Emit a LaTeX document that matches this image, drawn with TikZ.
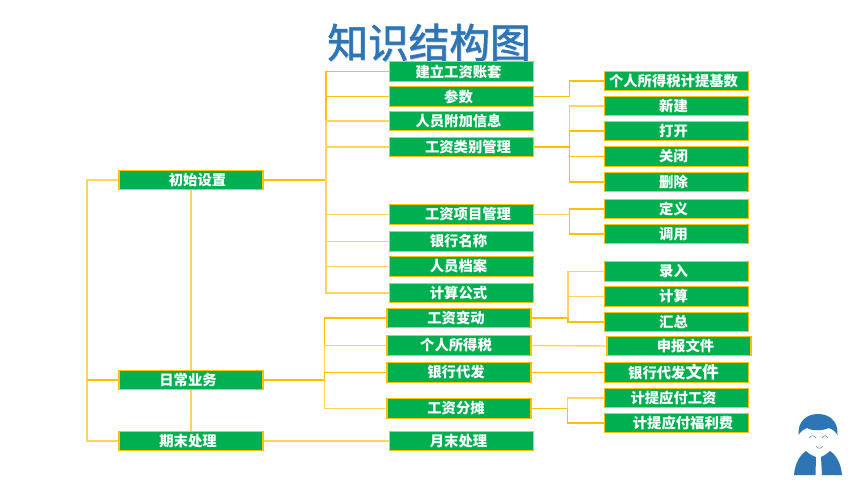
\documentclass[tikz,border=0pt]{standalone}
\usepackage{fontspec}
\setmainfont{Noto Sans CJK SC}
\newfontfamily\titlefont[FakeBold=1.2]{Noto Sans CJK SC}
\newcommand{\lft}{\hspace{-4.5pt}}
\newcommand{\rgt}{\hspace{9.75pt}}
\definecolor{boxgreen}{HTML}{00B050}
\definecolor{linegold}{HTML}{FFC000}
\definecolor{linelight}{HTML}{FFD35C}
\definecolor{titleblue}{HTML}{2E75B6}
\tikzset{
  kbox/.style={draw=linegold,line width=0.8pt,fill=boxgreen,text=white,inner sep=0pt,
    minimum width=108pt,minimum height=14.6pt,font=\fontsize{10.75pt}{12pt}\selectfont\bfseries},
  conn/.style={draw=linegold,line width=0.95pt},
  connlight/.style={draw=linelight,line width=1.05pt},
  connthick/.style={draw=linegold,line width=1.4pt},
  titletext/.style={text=titleblue,inner sep=0pt,font=\fontsize{30.5pt}{34pt}\titlefont},
  titleshadow/.style={text=titleblue!35,inner sep=0pt,font=\fontsize{30.5pt}{34pt}\titlefont},
  iconblue/.style={fill=titleblue,draw=none},
  iconline/.style={draw=titleblue!80,line width=0.45pt,line cap=round}
}
\begin{document}
\begin{tikzpicture}[x=0.75pt,y=-0.75pt]
\useasboundingbox (0,0) rectangle (860,484);
\fill[white] (0,0) rectangle (860,484);
% title
\node[titleshadow] (titleb) at (429.7,43.2) {知识结构图};
\node[titletext] (title) at (429,42.5) {知识结构图};
% level 1
\node[kbox] (init) at (191,180) {\rgt 初始设置};
\node[kbox] (daily) at (191,380) {\lft 日常业务};
\node[kbox] (close) at (191,441) {\lft 期末处理};
% level 2
\node[kbox] (a1) at (461.5,71.5) {\lft 建立工资账套};
\node[kbox] (a2) at (461.5,96.5) {\lft 参数};
\node[kbox] (a3) at (461.5,121) {\lft 人员附加信息};
\node[kbox] (a4) at (461.5,147) {\rgt 工资类别管理};
\node[kbox] (a5) at (461.5,214.5) {\rgt 工资项目管理};
\node[kbox] (a6) at (461.5,241.5) {\lft 银行名称};
\node[kbox] (a7) at (461.5,266.5) {\lft 人员档案};
\node[kbox] (a8) at (461.5,293) {\lft 计算公式};
\node[kbox] (d1) at (459,318) {\lft 工资变动};
\node[kbox] (d2) at (459,345.5) {\lft 个人所得税};
\node[kbox] (d3) at (459,372.5) {\lft 银行代发};
\node[kbox] (d4) at (459,408.5) {\lft 工资分摊};
\node[kbox] (m1) at (461.5,441) {\lft 月末处理};
% level 3
\node[kbox] (b1) at (676.5,81) {\lft 个人所得税计提基数};
\node[kbox] (b2) at (676.5,106) {\lft 新建};
\node[kbox] (b3) at (676.5,131) {\lft 打开};
\node[kbox] (b4) at (676.5,156.5) {\lft 关闭};
\node[kbox] (b5) at (676.5,182) {\lft 删除};
\node[kbox] (c1) at (676.5,209) {\lft 定义};
\node[kbox] (c2) at (676.5,234) {\lft 调用};
\node[kbox] (e1) at (676.5,271.5) {\lft 录入};
\node[kbox] (e2) at (676.5,296.5) {\lft 计算};
\node[kbox] (e3) at (676.5,322) {\lft 汇总};
\node[kbox] (f1) at (679,346) {\rgt 申报文件};
\node[kbox] (g1) at (676.5,372.5) {\lft\raisebox{-2.2pt}{银行代发{\fontsize{12.5pt}{12pt}\selectfont 文件}}};
\node[kbox] (h1) at (676.5,398) {\lft 计提应付工资};
\node[kbox] (h2) at (676.5,423) {\rgt 计提应付福利费};
% junctions
\coordinate (busInit) at (326,180);
\coordinate (busDaily) at (324.5,380);
\coordinate (busLeft) at (87,380);
\coordinate (busA2) at (569.5,96.5);
\coordinate (busA4) at (569.5,147);
\coordinate (busA5) at (569.5,214.5);
\coordinate (busD1) at (568,318);
\coordinate (busD4) at (567.5,408.5);
% trunk
\draw[connlight] (init.south) -- (daily.north);
\draw[connlight] (daily.south) -- (close.north);
\draw[connlight] (init.west) -| (busLeft);
\draw[conn] (busLeft) -- (daily.west);
\draw[connlight] (busLeft) |- (close.west);
% initial setup branch
\draw[connthick] (init.east) -- (busInit);
\draw[conn] (busInit) |- (a1.west);
\draw[conn] (busInit) |- (a2.west);
\draw[connlight] (busInit) |- (a3.west);
\draw[connlight] (busInit) |- (a4.west);
\draw[connlight] (busInit) |- (a5.west);
\draw[connlight] (busInit) |- (a6.west);
\draw[connlight] (busInit) |- (a7.west);
\draw[connlight] (busInit) |- (a8.west);
% daily branch
\draw[connthick] (daily.east) -- (busDaily);
\draw[conn] (busDaily) |- (d1.west);
\draw[connlight] (busDaily) |- (d2.west);
\draw[conn] (busDaily) |- (d3.west);
\draw[connlight] (busDaily) |- (d4.west);
% period end
\draw[connlight] (close.east) -- (m1.west);
% right side
\draw[conn] (a2.east) -- (busA2) |- (b1.west);
\draw[connthick] (a4.east) -- (busA4);
\draw[connlight] (busA4) |- (b2.west);
\draw[conn] (busA4) |- (b3.west);
\draw[conn] (busA4) |- (b4.west);
\draw[conn] (busA4) |- (b5.west);
\draw[connthick,draw=linelight] (a5.east) -- (busA5);
\draw[conn] (busA5) |- (c1.west);
\draw[conn] (busA5) |- (c2.west);
\draw[conn] (d1.east) -- (busD1);
\draw[connlight] (busD1) |- (e1.west);
\draw[connlight] (busD1) |- (e2.west);
\draw[conn] (busD1) |- (e3.west);
\draw[connlight] (d2.east) -- (f1.west);
\draw[conn] (d3.east) -- (g1.west);
\draw[connthick] (d4.east) -- (busD4);
\draw[connlight] (busD4) |- (h1.west);
\draw[conn] (busD4) |- (h2.west);
% person icon
\fill[iconblue] (798.5,435) .. controls (797.5,422) and (806,414) .. (818,414)
  .. controls (830,414) and (838.5,422) .. (837.5,435)
  .. controls (835,431) and (832,429) .. (829,428)
  .. controls (822,431) and (812,431) .. (807,428)
  .. controls (804,429) and (801,431) .. (798.5,435) -- cycle;
\fill[iconblue] (794,475) .. controls (795,463) and (800,455) .. (806,451)
  .. controls (809,454) and (813,456) .. (816,457) -- (815.5,475) -- cycle;
\fill[iconblue] (842,475) .. controls (841,463) and (836,455) .. (830,451)
  .. controls (827,454) and (823,456) .. (821,457) -- (822,475) -- cycle;
\draw[iconline] (809,438) .. controls (811,435) and (814,435) .. (816,438);
\draw[iconline] (822,438) .. controls (824,435) and (826,435) .. (828,438);
\draw[iconline] (816,446) .. controls (818,449) and (821,449) .. (823,446);
\end{tikzpicture}
\end{document}
